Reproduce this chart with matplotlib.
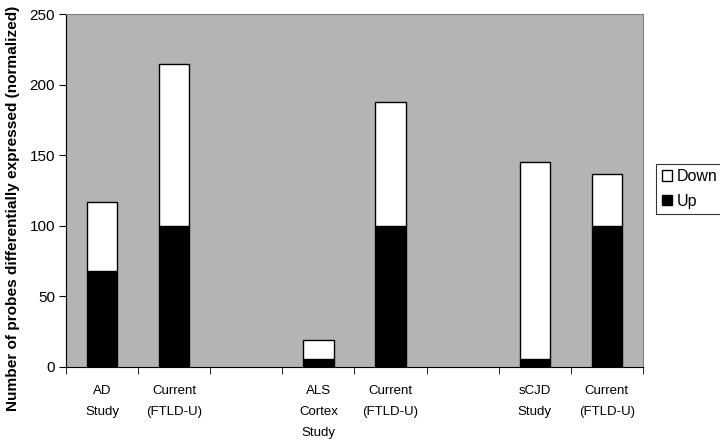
import matplotlib
matplotlib.use("Agg")
import matplotlib.pyplot as plt
import numpy as np

plt.rcParams['font.family'] = ['Liberation Sans', 'DejaVu Sans']

categories = ["AD\nStudy", "Current\n(FTLD-U)", "", "ALS\nCortex\nStudy",
              "Current\n(FTLD-U)", "", "sCJD\nStudy", "Current\n(FTLD-U)"]
up = [68, 100, np.nan, 6, 100, np.nan, 6, 100]
down = [49, 115, np.nan, 13, 88, np.nan, 139, 37]

fig = plt.figure(figsize=(7.2, 4.42), dpi=100)
ax = fig.add_axes([0.0917, 0.1697, 0.8013, 0.7983])
ax.set_facecolor('#b4b4b4')

x = np.arange(len(categories))
up_a = np.array(up, dtype=float)
down_a = np.array(down, dtype=float)
mask = ~np.isnan(up_a)
w = 0.42
ax.bar(x[mask], up_a[mask], width=w, color='black', edgecolor='black', linewidth=1, label='Up', zorder=3)
ax.bar(x[mask], down_a[mask], bottom=up_a[mask], width=w, color='white', edgecolor='black', linewidth=1, label='Down', zorder=3)

ax.set_xlim(-0.5, len(categories) - 0.5)
ax.set_ylim(0, 250)
ax.set_yticks([0, 50, 100, 150, 200, 250])
ax.set_xticks(x)
ax.set_xticklabels(categories, fontsize=9.5, va='top', linespacing=2.0)
ax.set_xticks(np.arange(-0.5, len(categories), 1), minor=True)
ax.tick_params(axis='x', which='major', length=0, pad=13)
ax.tick_params(axis='x', which='minor', length=5, direction='out', color='black')
ax.tick_params(axis='y', length=5, direction='out', labelsize=11, pad=3)
ax.set_ylabel('Number of probes differentially expressed (normalized)', fontsize=11.1, fontweight='bold')
ax.yaxis.set_label_coords(-0.08, 0.45)

for s in ['top', 'right']:
    ax.spines[s].set_color('#808080')
for s in ['left', 'bottom']:
    ax.spines[s].set_color('black')

handles, labels = ax.get_legend_handles_labels()
leg = fig.legend(handles[::-1], labels[::-1], loc='upper left', bbox_to_anchor=(0.911, 0.63),
                 fontsize=11.5, frameon=True, fancybox=False, edgecolor='black',
                 handlelength=0.65, handleheight=0.65, handletextpad=0.3, borderpad=0.35,
                 labelspacing=0.6, borderaxespad=0)
leg.get_frame().set_linewidth(0.8)

fig.savefig('out.png', dpi=100)
